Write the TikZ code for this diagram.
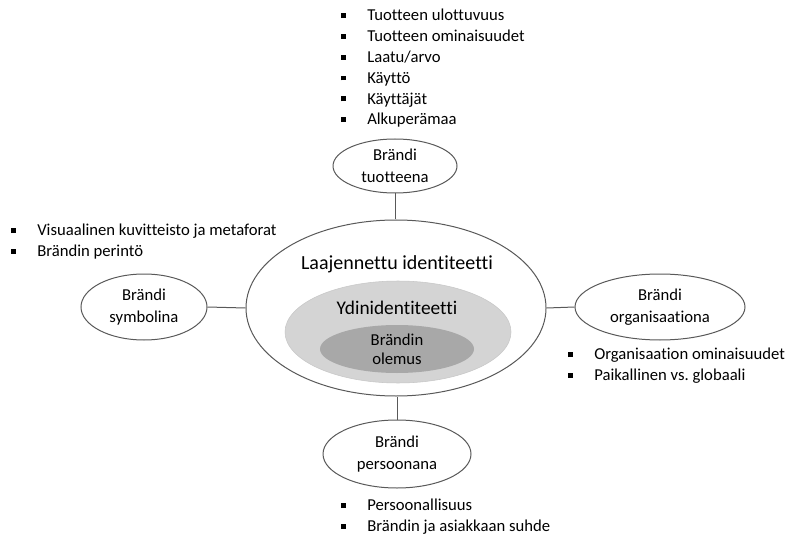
\documentclass[tikz,border=0pt]{standalone}
\usepackage{fontspec}
\setmainfont{Carlito}[RawFeature={-liga}]
\usepackage{xcolor}
\usetikzlibrary{shapes.geometric,positioning}
\definecolor{rim}{HTML}{595959}
\definecolor{coreshade}{HTML}{D4D4D4}
\definecolor{essshade}{HTML}{A8A8A8}
\tikzset{
  bubble/.style={ellipse,draw=rim,line width=0.75pt,fill=white,align=center,inner sep=0pt,
    font=\fontsize{12.5}{16.5}\selectfont},
  link/.style={draw=rim,line width=0.75pt},
  items/.style={anchor=north west,align=left,inner sep=0pt,
    font=\fontsize{12.5}{15.6}\selectfont},
  every node/.style={text=black}
}
\newcommand{\sqb}{\makebox[19.5pt][l]{\rule[0.35ex]{3.6pt}{3.6pt}}}

\begin{document}
\begin{tikzpicture}[x=0.75pt,y=-0.75pt]
  \useasboundingbox (0,0) rectangle (787,541);
  % identity core
  \node[bubble,minimum width=225pt,minimum height=132pt] (ext) at (396,308) {};
  \node[font=\fontsize{15}{18}\selectfont] (extlbl) at (397,264) {Laajennettu identiteetti};
  \node[ellipse,fill=coreshade,draw=black!22,minimum width=169.5pt,minimum height=76.5pt] (core) at (398,332) {};
  \node[font=\fontsize{14.5}{17}\selectfont] (corelbl) at (397,308) {Ydinidentiteetti};
  \node[ellipse,fill=essshade,align=center,inner sep=0pt,minimum width=115.5pt,minimum height=36pt,
    font=\fontsize{12.5}{14.5}\selectfont] (ess) at (397,349) {Brändin\\olemus};

  % four perspectives
  \node[bubble,minimum width=93pt,minimum height=40.5pt] (prod) at (395,166) {Brändi\\tuotteena};
  \node[bubble,minimum width=94.5pt,minimum height=49.5pt] (symb) at (144,307) {Brändi\\symbolina};
  \node[bubble,minimum width=127.5pt,minimum height=49.5pt] (org) at (660,307) {Brändi\\organisaationa};
  \node[bubble,minimum width=111pt,minimum height=51pt] (pers) at (397,454) {Brändi\\persoonana};

  \draw[link] (prod.south) -- (prod.south |- ext.north);
  \draw[link] (symb.east) -- (ext.west);
  \draw[link] (ext.east) -- (org.west);
  \draw[link] (pers.north |- ext.south) -- (pers.north);

  % bullet lists
  \node[items] (prodlist) at (341,9) {\sqb Tuotteen ulottuvuus\\ \sqb Tuotteen ominaisuudet\\
    \sqb Laatu/arvo\\ \sqb Käyttö\\ \sqb Käyttäjät\\ \sqb Alkuperämaa};
  \node[items] (symblist) at (11,224) {\sqb Visuaalinen kuvitteisto ja metaforat\\ \sqb Brändin perintö};
  \node[items] (orglist) at (568,348) {\sqb Organisaation ominaisuudet\\ \sqb Paikallinen vs.\ globaali};
  \node[items] (perslist) at (341,499) {\sqb Persoonallisuus\\ \sqb Brändin ja asiakkaan suhde};
\end{tikzpicture}
\end{document}
